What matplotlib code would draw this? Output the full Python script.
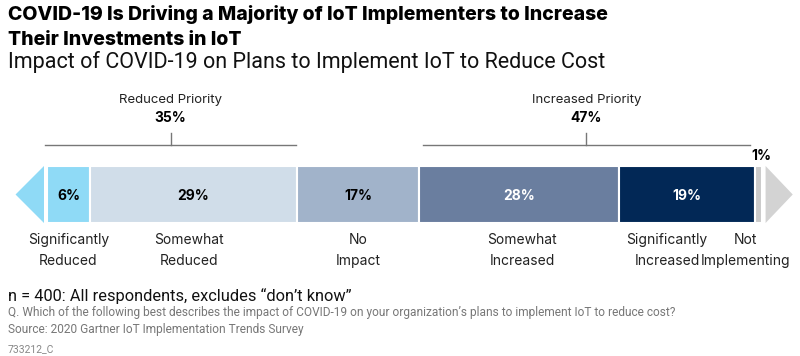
import matplotlib.pyplot as plt
from matplotlib.patches import Polygon

# data
categories = ["Significantly\nReduced", "Somewhat\nReduced", "No\nImpact",
              "Somewhat\nIncreased", "Significantly\nIncreased", "Not\nImplementing"]
values = [6, 29, 17, 28, 19, 1]
colors = ["#8fdaf6", "#d0dde9", "#a1b3ca", "#6a7e9f", "#022856", "#c9c9c9"]
text_colors = ["black", "black", "black", "white", "white", "black"]
groups = ["Reduced Priority", "Increased Priority"]
group_values = [35, 47]
group_spans = [(0, 35), (52, 99)]

title_lines = ["COVID-19 Is Driving a Majority of IoT Implementers to Increase",
               "Their Investments in IoT"]
subtitle = "Impact of COVID-19 on Plans to Implement IoT to Reduce Cost"
base_note = "n = 400: All respondents, excludes \u201cdon\u2019t know\u201d"
question = ("Q. Which of the following best describes the impact of COVID-19 on your "
            "organization\u2019s plans to implement IoT to reduce cost?")
source = "Source: 2020 Gartner IoT Implementation Trends Survey"
code = "733212_C"

W, H = 800, 356
x0, scale = 47, 7.15  # pixel position of 0% and pixels per percent

fig = plt.figure(figsize=(W / 100, H / 100), dpi=100)
ax = fig.add_axes([0, 0, 1, 1])
ax.set_xlim(-x0 / scale, (W - x0) / scale)
ax.set_ylim(H, 0)
ax.axis("off")

font = "Inter"
bar_y, bar_h = 194.5, 57

# stacked bar
left = 0
centers = []
for v, c, tc in zip(values, colors, text_colors):
    ax.barh(bar_y, v, left=left, height=bar_h, color=c, edgecolor="white", linewidth=1.5)
    centers.append(left + v / 2)
    if v > 1:
        ax.text(left + v / 2, bar_y + 1, f"{v}%", ha="center", va="center",
                color=tc, fontsize=10, fontweight="bold", family=font)
    left += v

# "1%" above the thin segment
ax.text(centers[-1] + 0.4, 156, f"{values[-1]}%", ha="center", va="center",
        fontsize=10, fontweight="bold", family=font)

# end arrows
ax.add_patch(Polygon([(-0.42, 166), (-0.42, 223), (-4.4, bar_y)], closed=True,
                     color=colors[0], lw=0))
ax.add_patch(Polygon([(100.5, 166), (100.5, 223), (104.3, bar_y)], closed=True,
                     color="#d3d3d3", lw=0))

# category labels (last two nudged left so they don't collide / clip)
nudge_px = [0, -5, 0, 3, -20, -13]
for c, d, lab in zip(centers, nudge_px, categories):
    ax.text(c + d / scale, 233, lab, ha="center", va="top", fontsize=10, family=font,
            linespacing=1.6, color="#222222")

# brackets
inset_px = [(-2, -1), (4, -5)]
for (a, b), (ia, ib), g, gv in zip(group_spans, inset_px, groups, group_values):
    a_adj = a + ia / scale
    b_adj = b + ib / scale
    mid = (a_adj + b_adj) / 2
    ax.plot([a_adj, b_adj], [145, 145], color="#777777", lw=1)
    ax.plot([mid, mid], [133, 145], color="#777777", lw=1)
    ax.text(mid, 100, g, ha="center", va="center", fontsize=9.5, family=font, color="#222222")
    ax.text(mid, 118, f"{gv}%", ha="center", va="center", fontsize=10,
            fontweight="bold", family=font)

# titles
for line, base in zip(title_lines, [20.5, 45]):
    fig.text(8 / W, 1 - base / H, line, ha="left", va="baseline", fontsize=14,
             fontweight="heavy", family=font)
fig.text(8 / W, 1 - 68 / H, subtitle, ha="left", va="baseline", fontsize=15.5,
         family="Roboto", color="#111111")

# footer
footer = [(base_note, 300.5, 11.8, "#111111"), (question, 316, 8.6, "#777777"),
          (source, 333, 8.6, "#777777"), (code, 352, 7.5, "#888888")]
for txt, base, size, col in footer:
    fig.text(8 / W, 1 - base / H, txt, ha="left", va="baseline", fontsize=size,
             family="Roboto", color=col)

fig.savefig("out.png", dpi=100)
